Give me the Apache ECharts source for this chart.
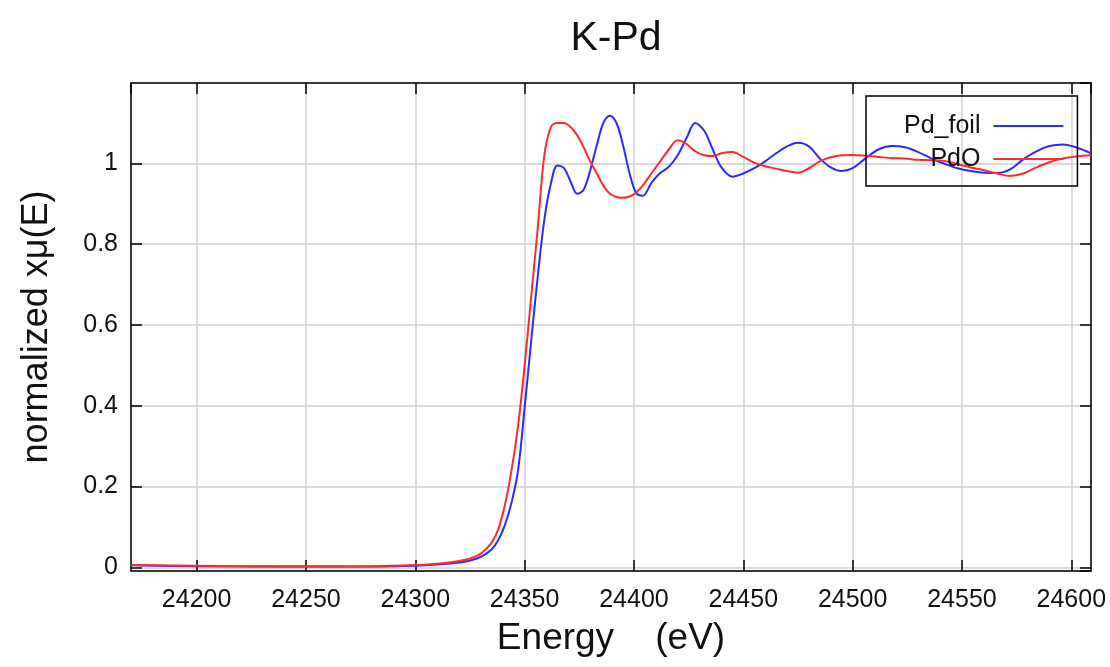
<!DOCTYPE html>
<html>
<head>
<meta charset="utf-8">
<script src="https://cdn.jsdelivr.net/npm/echarts@6/dist/echarts.min.js"></script>
<style>html,body{margin:0;padding:0;background:#fff}#c{width:1110px;height:667px}</style>
</head>
<body>
<div id="c"></div>
<script>
const titleText = 'K-Pd';
const xName = 'Energy    (eV)';
const yName = 'normalized x\u03bc(E)';
const seriesNames = ['Pd_foil', 'PdO'];

const energy = [24170, 24200, 24250, 24280, 24300, 24310, 24320, 24325, 24330, 24335, 24338, 24341, 24344, 24347, 24350, 24353, 24356, 24359, 24362, 24365, 24368, 24371, 24374, 24377, 24380, 24383, 24386, 24389, 24392, 24395, 24398, 24401, 24404, 24408, 24412, 24416, 24420, 24424, 24428, 24432, 24436, 24440, 24445, 24450, 24455, 24460, 24465, 24470, 24475, 24480, 24485, 24490, 24495, 24500, 24506, 24512, 24518, 24524, 24530, 24536, 24542, 24548, 24554, 24560, 24566, 24572, 24578, 24584, 24590, 24596, 24602, 24609];

const pdFoil = [0.005, 0.003, 0.002, 0.002, 0.004, 0.007, 0.012, 0.017, 0.026, 0.045, 0.068, 0.105, 0.16, 0.24, 0.395, 0.56, 0.72, 0.86, 0.95, 0.995, 0.988, 0.955, 0.925, 0.935, 0.983, 1.045, 1.1, 1.118, 1.1, 1.045, 0.975, 0.927, 0.92, 0.952, 0.976, 0.992, 1.02, 1.062, 1.1, 1.082, 1.035, 0.99, 0.967, 0.975, 0.988, 1.005, 1.025, 1.042, 1.051, 1.042, 1.012, 0.99, 0.981, 0.988, 1.013, 1.035, 1.043, 1.04, 1.028, 1.012, 0.999, 0.988, 0.981, 0.977, 0.976, 0.985, 1.01, 1.03, 1.043, 1.047, 1.04, 1.025];

const pdO = [0.006, 0.004, 0.002, 0.003, 0.006, 0.009, 0.016, 0.022, 0.034, 0.062, 0.095, 0.155, 0.24, 0.35, 0.5, 0.67, 0.84, 1.02, 1.09, 1.1, 1.1, 1.09, 1.07, 1.04, 1.005, 0.975, 0.945, 0.925, 0.917, 0.915, 0.918, 0.928, 0.945, 0.975, 1.005, 1.035, 1.057, 1.048, 1.03, 1.02, 1.018, 1.025, 1.028, 1.016, 1.002, 0.993, 0.987, 0.981, 0.977, 0.988, 1.005, 1.015, 1.02, 1.021, 1.019, 1.016, 1.013, 1.012, 1.009, 1.008, 1.006, 0.998, 0.99, 0.983, 0.975, 0.969, 0.975, 0.99, 1.003, 1.012, 1.017, 1.02];

const xMin = 24170, xMax = 24609;
const yMin = -0.009, yMax = 1.199;

const FONT = "'Liberation Sans', Arial, sans-serif";
const chart = echarts.init(document.getElementById('c'), null, {renderer: 'canvas'});

const pairs = (ys) => energy.map((e, i) => [e, ys[i]]);

const baseX = {
  type: 'value', min: xMin, max: xMax, splitNumber: 9,
  axisLine: {show: true, onZero: false, lineStyle: {color: '#000', width: 1.5}},
  axisTick: {show: true, inside: true, length: 11, lineStyle: {color: '#000', width: 1.5}}
};
const baseY = {
  type: 'value', min: yMin, max: yMax, splitNumber: 5,
  axisLine: {show: true, onZero: false, lineStyle: {color: '#000', width: 1.5}},
  axisTick: {show: true, inside: true, length: 11, lineStyle: {color: '#000', width: 1.5}}
};

chart.setOption({
  animation: false,
  backgroundColor: '#fff',
  title: {
    text: titleText, left: 611, top: 13, textAlign: 'center',
    textStyle: {fontFamily: FONT, fontSize: 41, fontWeight: 'normal', color: '#111'}
  },
  legend: {
    data: seriesNames,
    orient: 'vertical', align: 'right', left: 866, top: 96,
    icon: 'rect', itemWidth: 70, itemHeight: 2, itemGap: 3,
    padding: [15, 14, 12, 38],
    borderColor: '#000', borderWidth: 1.5,
    textStyle: {fontFamily: FONT, fontSize: 25, lineHeight: 30, color: '#111', padding: [0, 8, 0, 0]}
  },
  grid: {left: 131, right: 19, top: 83, bottom: 96, containLabel: false},
  xAxis: [
    Object.assign({}, baseX, {
      position: 'bottom',
      name: xName, nameLocation: 'middle', nameGap: 49,
      nameTextStyle: {fontFamily: FONT, fontSize: 37, color: '#111'},
      axisLabel: {show: true, margin: 17, fontFamily: FONT, fontSize: 25, color: '#111', showMinLabel: false, showMaxLabel: false,
        formatter: (v) => String(Math.round(v))},
      splitLine: {show: true, lineStyle: {color: '#d0d0d0', width: 1.5}}
    }),
    Object.assign({}, baseX, {
      position: 'top',
      axisLabel: {show: false}, splitLine: {show: false}
    })
  ],
  yAxis: [
    Object.assign({}, baseY, {
      position: 'left',
      name: yName, nameLocation: 'middle', nameGap: 76,
      nameTextStyle: {fontFamily: FONT, fontSize: 36, color: '#111'},
      axisLabel: {show: true, margin: 13, fontFamily: FONT, fontSize: 25, color: '#111', showMinLabel: false, showMaxLabel: false},
      splitLine: {show: true, lineStyle: {color: '#d0d0d0', width: 1.5}}
    }),
    Object.assign({}, baseY, {
      position: 'right',
      axisLabel: {show: false}, splitLine: {show: false}
    })
  ],
  series: [
    {
      name: seriesNames[0], type: 'line', xAxisIndex: 0, yAxisIndex: 0,
      data: pairs(pdFoil), smooth: 0.35, showSymbol: false,
      lineStyle: {color: '#2b2bff', width: 2}, itemStyle: {color: '#2b2bff'}
    },
    {
      name: seriesNames[1], type: 'line', xAxisIndex: 0, yAxisIndex: 0,
      data: pairs(pdO), smooth: 0.35, showSymbol: false,
      lineStyle: {color: '#ff2b2b', width: 2}, itemStyle: {color: '#ff2b2b'}
    }
  ]
});
</script>
</body>
</html>
